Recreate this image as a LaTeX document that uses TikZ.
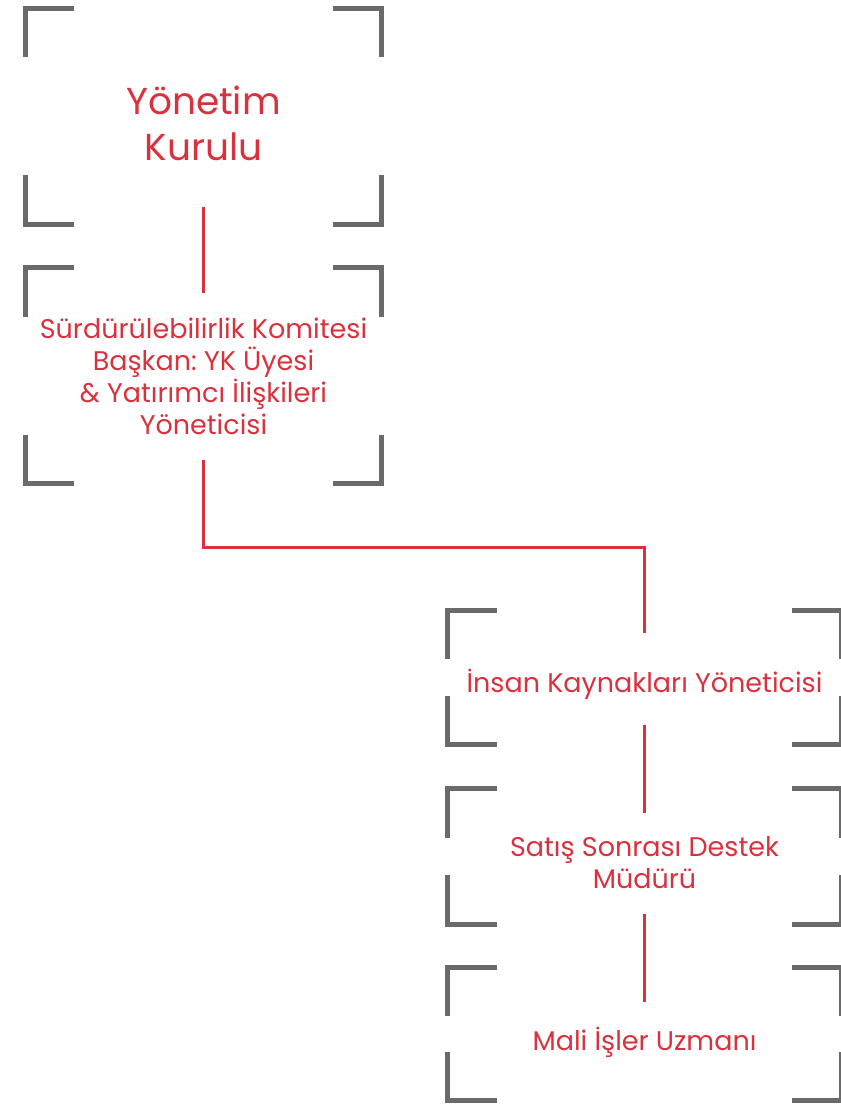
\documentclass[tikz,border=0pt]{standalone}
\usepackage{fontspec}
\setmainfont{Poppins}
\frenchspacing
\colorlet{background}{white}
\definecolor{penRed}{RGB}{217,50,62}
\definecolor{penGray}{RGB}{106,106,106}
\tikzset{
  bracket/.style={penGray, line width=5pt},
  link/.style={penRed, line width=3pt},
  bigframe/.style={minimum width=356pt, minimum height=216pt, inner sep=0pt},
  smallframe/.style={minimum width=393pt, minimum height=134pt, inner sep=0pt},
  lbl/.style={penRed, align=center, inner sep=0pt},
}
\newcommand{\bigtext}{\fontsize{37.5}{46}\selectfont}
\newcommand{\smalltext}{\fontsize{27}{32}\selectfont}

\begin{document}
\begin{tikzpicture}[x=1pt,y=-1pt]
\useasboundingbox (0,0) rectangle (841,1104);
\clip (0,0) rectangle (841,1104);
% frames
\node[bigframe] (ykf) at (203.5,116.25) {};
\node[bigframe] (skf) at (203.5,375.75) {};
\node[smallframe] (ikf) at (644.5,677.5) {};
\node[smallframe, minimum height=135pt] (ssf) at (644.5,856.5) {};
\node[smallframe, minimum height=133pt] (mif) at (644.5,1034) {};
\foreach \b in {ykf,skf,ikf,ssf,mif} {
  \draw[bracket] ([xshift=49pt]\b.north west) -- (\b.north west) -- ([yshift=-49pt]\b.north west);
  \draw[bracket] ([xshift=-49pt]\b.north east) -- (\b.north east) -- ([yshift=-49pt]\b.north east);
  \draw[bracket] ([xshift=49pt]\b.south west) -- (\b.south west) -- ([yshift=49pt]\b.south west);
  \draw[bracket] ([xshift=-49pt]\b.south east) -- (\b.south east) -- ([yshift=49pt]\b.south east);
}
% labels
\node[lbl, font=\bigtext] (yk) at ([yshift=-7pt]ykf.center) {Yönetim\\Kurulu};
\node[lbl, font=\smalltext] (sk) at ([yshift=-1pt]skf.center) {Sürdürülebilirlik Komitesi\\Başkan: YK Üyesi\\\& Yatırımcı İlişkileri\\Yöneticisi};
\node[lbl, font=\smalltext] (ik) at ([yshift=-6.5pt]ikf.center) {İnsan Kaynakları Yöneticisi};
\node[lbl, font=\smalltext] (ss) at ([yshift=-6.5pt]ssf.center) {Satış Sonrası Destek\\Müdürü};
\node[lbl, font=\smalltext] (mi) at ([yshift=-8pt]mif.center) {Mali İşler Uzmanı};
% connectors
\draw[link] ([yshift=17.5pt]ykf.south) -- ([yshift=-25pt]skf.north);
\draw[link] ([yshift=23.5pt]skf.south) -- ++(0,87) -| ([yshift=-22.5pt]ikf.north);
\draw[link] ([yshift=19.5pt]ikf.south) -- ([yshift=-23.7pt]ssf.north);
\draw[link] ([yshift=10pt]ssf.south) -- ([yshift=-34.5pt]mif.north);
\end{tikzpicture}
\end{document}
